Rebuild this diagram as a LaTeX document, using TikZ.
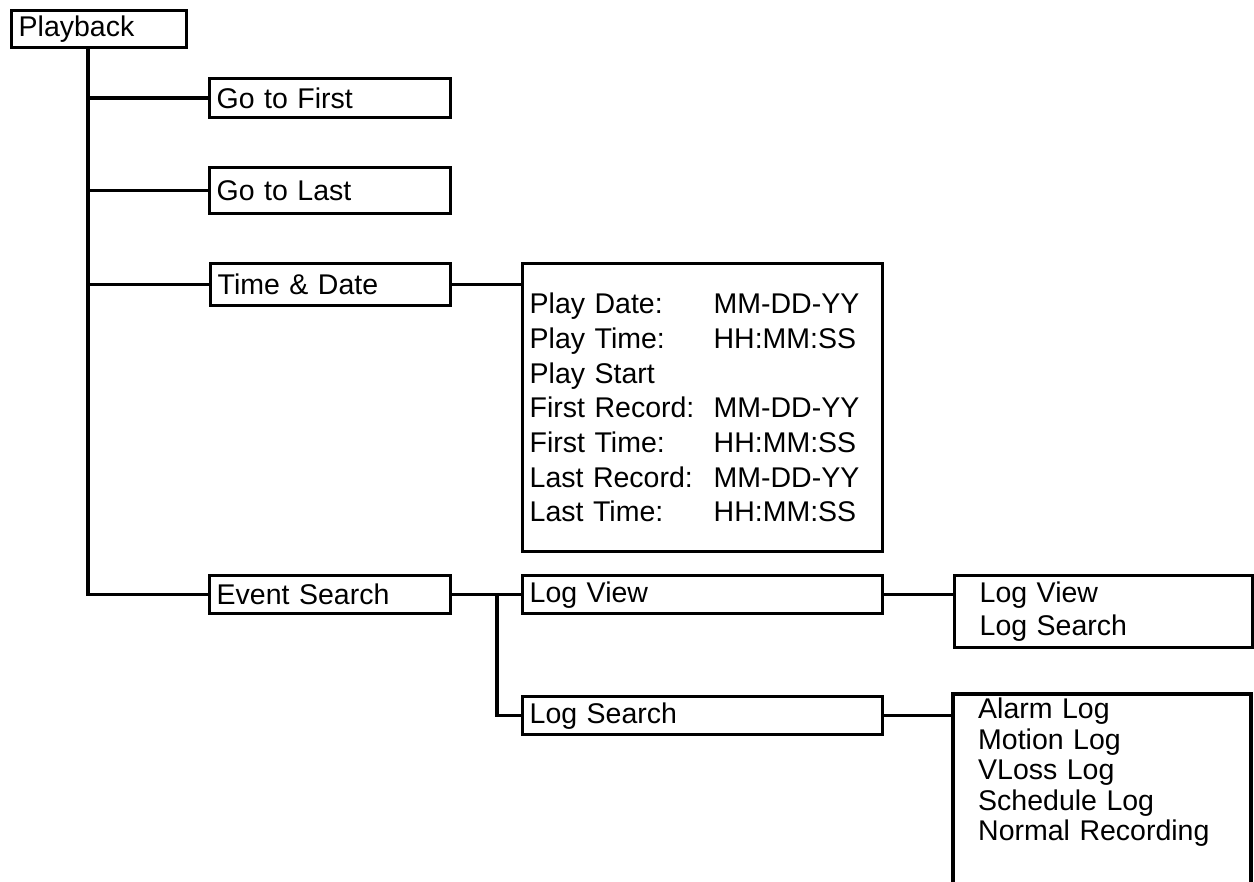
\documentclass[tikz,border=0pt]{standalone}
\usepackage{fontspec}
\setmainfont{Liberation Sans}
\begin{document}
\begin{tikzpicture}[x=1pt,y=-1pt,
  ln/.style={line width=3.4pt},
  box/.style={draw, line width=3.4pt, rectangle, anchor=north west, inner xsep=7pt, inner ysep=0pt, align=left, font=\fontsize{28.5}{34}\selectfont},
  plain/.style={anchor=north west, inner sep=0pt, align=left}
]
\useasboundingbox (0,0) rectangle (1254,882);
% boxes
\node[box, text width=161pt, minimum height=37pt] (pb) at (10,9) {Playback};
\node[box, text width=227pt, minimum height=39pt] (g1) at (208,77) {Go to First};
\node[box, text width=227pt, minimum height=46pt] (g2) at (208,166) {Go to Last};
\node[box, text width=226pt, minimum height=42pt] (td) at (209,262) {Time \& Date};
\node[box, text width=346pt, minimum height=288pt, font=\fontsize{28.5}{34.7}\selectfont] (big) at (521,262)
 {\makebox[184pt][l]{Play Date:}MM-DD-YY\\
  \makebox[184pt][l]{Play Time:}HH:MM:SS\\
  Play Start\\
  \makebox[184pt][l]{First Record:}MM-DD-YY\\
  \makebox[184pt][l]{First Time:}HH:MM:SS\\
  \makebox[184pt][l]{Last Record:}MM-DD-YY\\
  \makebox[184pt][l]{Last Time:}HH:MM:SS};
\node[box, text width=227pt, minimum height=38pt] (es) at (208,574) {Event Search};
\node[box, text width=346pt, minimum height=38pt] (lv) at (521,574) {Log View};
\node[box, text width=346pt, minimum height=38pt] (ls) at (521,695) {Log Search};
\node[box, inner xsep=25pt, text width=248pt, minimum height=72pt, font=\fontsize{28.5}{33}\selectfont] (rt1) at (953,574) {Log View\\Log Search};
% open box at bottom right
\coordinate (rt2tl) at (953,694);
\coordinate (rt2tr) at (1251,694);
\coordinate (rt2bl) at (953,882);
\coordinate (rt2br) at (1251,882);
\draw[ln] (rt2bl) -- (rt2tl) -- (rt2tr) -- (rt2br);
\node[plain, text width=260pt, font=\fontsize{28.5}{30.5}\selectfont] (rt2) at (978,698)
 {Alarm Log\\Motion Log\\VLoss Log\\Schedule Log\\Normal Recording};
% connectors
\coordinate (tx) at (88,0);
\coordinate (jx) at (497,0);
\draw[ln] (tx |- pb.south) -- (tx |- es.west) -- (es.west);
\foreach \n in {g1,g2,td} \draw[ln] (tx |- \n.west) -- (\n.west);
\draw[ln] (td.east) -- (td.east -| big.west);
\draw[ln] (es.east) -- (lv.west);
\draw[ln] (jx |- lv.west) -- (jx |- ls.west) -- (ls.west);
\draw[ln] (lv.east) -- (lv.east -| rt1.west);
\draw[ln] (ls.east) -- (ls.east -| rt2tl);
\end{tikzpicture}
\end{document}
